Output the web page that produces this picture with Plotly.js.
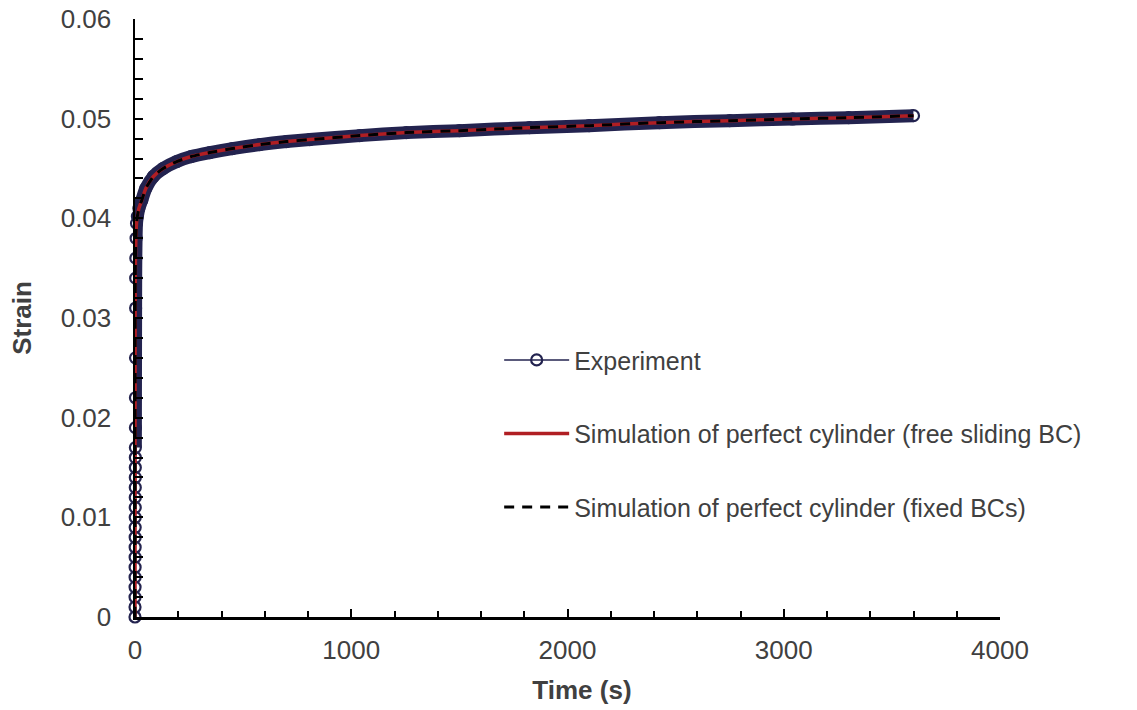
<!DOCTYPE html>
<html>
<head>
<meta charset="utf-8">
<script src="https://cdn.plot.ly/plotly-3.0.1.min.js"></script>
<style>html,body{margin:0;padding:0;background:#fff;}#chart{width:1137px;height:710px;}</style>
</head>
<body>
<div id="chart"></div>
<script>
// Experiment (time in s, strain)
const expTime = [0, 0.1, 0.2, 0.3, 0.4, 0.5, 0.6, 0.7, 0.8, 0.9, 1.0, 1.1, 1.2, 1.3, 1.4, 1.5, 1.6, 1.7,
  1.9, 2.1, 2.4, 2.8, 3.2, 3.8, 5, 7, 11, 18, 31, 50, 85, 130, 193, 260, 346, 450, 577, 700, 808,
  1039, 1255, 1500, 1824, 2100, 2425, 2750, 3041, 3300, 3600];
const expStrain = [0, 0.001, 0.002, 0.003, 0.004, 0.005, 0.006, 0.007, 0.008, 0.009, 0.010, 0.011, 0.012, 0.013, 0.014, 0.015, 0.016, 0.017,
  0.019, 0.022, 0.026, 0.031, 0.034, 0.036, 0.038, 0.0395, 0.0402, 0.041, 0.0418, 0.043, 0.0442, 0.0450, 0.0457, 0.0462, 0.0466, 0.0470, 0.0474, 0.0477, 0.0479,
  0.0483, 0.0486, 0.0488, 0.0491, 0.0493, 0.0496, 0.0498, 0.04997, 0.0501, 0.0503];

// Simulation of perfect cylinder (free sliding BC)
const simFreeTime = [0, 0.5, 1, 2, 4, 7, 11, 18, 31, 50, 85, 130, 193, 260, 346, 450, 577, 700, 808,
  1039, 1255, 1500, 1824, 2100, 2425, 2750, 3041, 3300, 3600];
const simFreeStrain = [0, 0.02, 0.032, 0.036, 0.038, 0.0395, 0.0402, 0.041, 0.0418, 0.043, 0.0442, 0.0450, 0.0457, 0.0462, 0.0466, 0.0470, 0.0474, 0.0477, 0.0479,
  0.0483, 0.0486, 0.0488, 0.0491, 0.0493, 0.0496, 0.0498, 0.04997, 0.0501, 0.0503];

// Simulation of perfect cylinder (fixed BCs)
const simFixedTime = [0, 0.5, 1, 2, 4, 7, 11, 18, 31, 50, 85, 130, 193, 260, 346, 450, 577, 700, 808,
  1039, 1255, 1500, 1824, 2100, 2425, 2750, 3041, 3300, 3600];
const simFixedStrain = [0, 0.02, 0.032, 0.036, 0.038, 0.0395, 0.0402, 0.041, 0.0418, 0.043, 0.0442, 0.0450, 0.0457, 0.0462, 0.0466, 0.0470, 0.0474, 0.0477, 0.0479,
  0.0483, 0.0486, 0.0488, 0.0491, 0.0493, 0.0496, 0.0498, 0.04997, 0.0501, 0.0503];

const seriesNames = ['Experiment', 'Simulation of perfect cylinder (free sliding BC)', 'Simulation of perfect cylinder (fixed BCs)'];

const navy = '#23234f';
const FONT = '"Liberation Sans", Arial, sans-serif';
const TXT = '#404040';

// dense part of the experiment (overlapping markers form a solid band)
const bandT = [], bandS = [];
expTime.forEach((t, i) => { if (expStrain[i] >= 0.017) { bandT.push(t); bandS.push(expStrain[i]); } });

const traces = [
  { x: bandT, y: bandS, mode: 'lines', line: { color: navy, width: 13, shape: 'spline', smoothing: 0.6 },
    showlegend: false, hoverinfo: 'skip', cliponaxis: false },
  { x: expTime, y: expStrain, name: seriesNames[0], mode: 'lines+markers', legendgroup: 'a',
    line: { color: navy, width: 1.5 },
    marker: { symbol: 'circle-open', size: 11, color: navy, line: { width: 2.2, color: navy } },
    cliponaxis: false },
  { x: simFreeTime, y: simFreeStrain, name: seriesNames[1], mode: 'lines', legendgroup: 'b',
    line: { color: '#b01e23', width: 3.5, shape: 'spline', smoothing: 0.6 }, cliponaxis: false },
  { x: simFixedTime, y: simFixedStrain, name: seriesNames[2], mode: 'lines', legendgroup: 'c',
    line: { color: '#000000', width: 3, dash: '10px,8px', shape: 'spline', smoothing: 0.6 }, cliponaxis: false }
];

const layout = {
  width: 1137, height: 710,
  margin: { l: 135, r: 137, t: 19, b: 93 },
  paper_bgcolor: '#ffffff', plot_bgcolor: '#ffffff',
  font: { family: FONT, size: 25, color: TXT },
  showlegend: true,
  legend: {
    x: 0.421, y: 0.468, xanchor: 'left', yanchor: 'top',
    font: { family: FONT, size: 25, color: TXT },
    tracegroupgap: 38, traceorder: 'grouped', itemwidth: 65,
    bgcolor: 'rgba(0,0,0,0)'
  },
  xaxis: {
    range: [0, 4000], dtick: 1000, tick0: 0,
    showgrid: false, zeroline: false,
    showline: true, linecolor: '#000', linewidth: 2.5,
    ticks: 'inside', ticklen: 8, tickwidth: 2, tickcolor: '#000',
    ticklabelstandoff: 8,
    tickfont: { family: FONT, size: 26, color: TXT },
    minor: { dtick: 200, ticks: 'inside', ticklen: 6, tickwidth: 2, tickcolor: '#000', showgrid: false },
    title: { text: '&nbsp;&nbsp;&nbsp;&nbsp;<b>Time (s)</b>', font: { family: FONT, size: 26, color: TXT }, standoff: 17 }
  },
  yaxis: {
    range: [0, 0.06], dtick: 0.01, tick0: 0,
    showgrid: false, zeroline: false,
    showline: true, linecolor: '#000', linewidth: 2.5,
    ticks: 'inside', ticklen: 8, tickwidth: 2, tickcolor: '#000',
    ticklabelstandoff: 16,
    tickfont: { family: FONT, size: 26, color: TXT },
    minor: { dtick: 0.002, ticks: 'inside', ticklen: 8, tickwidth: 2, tickcolor: '#000', showgrid: false },
    title: { text: '<b>Strain</b>', font: { family: FONT, size: 26, color: TXT }, standoff: 22 }
  }
};

Plotly.newPlot('chart', traces, layout, { displayModeBar: false, staticPlot: true });
</script>
</body>
</html>
